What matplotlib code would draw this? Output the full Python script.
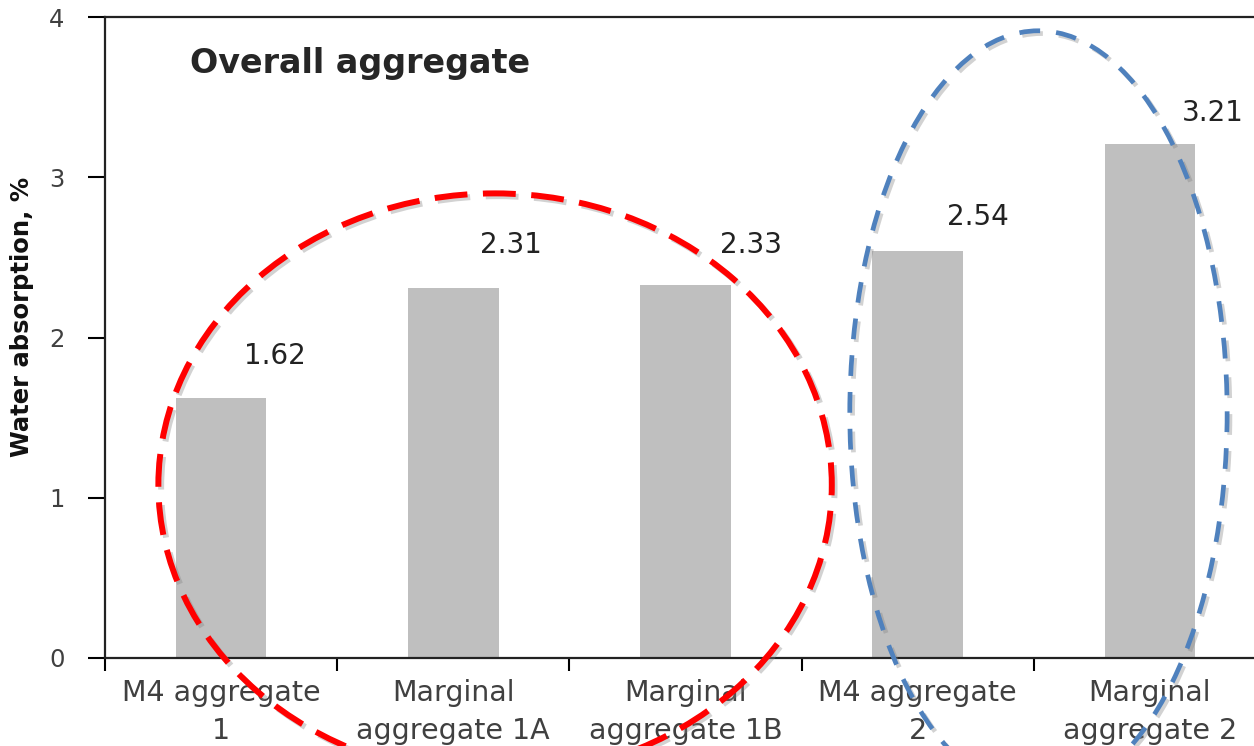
import matplotlib
matplotlib.use("Agg")
import matplotlib.pyplot as plt
from matplotlib.patches import Ellipse
from matplotlib import patheffects as pe

categories = ["M4 aggregate\n1", "Marginal\naggregate 1A", "Marginal\naggregate 1B",
              "M4 aggregate\n2", "Marginal\naggregate 2"]
water_absorption = [1.62, 2.31, 2.33, 2.54, 3.21]
y_ticks = [0, 1, 2, 3, 4]

plt.rcParams["font.family"] = ["DejaVu Sans"]

fig = plt.figure(figsize=(12.54, 7.46), dpi=100)
ax = fig.add_axes([0.0837, 0.118, 0.9259, 0.859])

x = list(range(len(categories)))
ax.bar(x, water_absorption, width=0.39, color="#BFBFBF", zorder=2)

# value labels sit up and to the right of each bar (offsets in pixels)
label_offsets = [(54, 42), (58, 43), (66, 40), (60, 34), (63, 31)]
for xi, v, (dx, dy) in zip(x, water_absorption, label_offsets):
    ax.annotate(f"{v:.2f}", xy=(xi, v), xytext=(dx * 0.72, dy * 0.72),
                textcoords="offset points", ha="center", va="center",
                fontsize=20, color="#222222")

ax.set_xlim(-0.5, 4.5)
ax.set_ylim(0, 4)
ax.set_yticks(y_ticks)
ax.set_yticklabels([str(t) for t in y_ticks], fontsize=17.5, color="#404040")
ax.set_xticks(x)
ax.set_xticklabels(categories, fontsize=20.5, color="#404040", linespacing=1.45)
ax.set_xticks([i - 0.5 for i in range(len(categories) + 1)], minor=True)
ax.tick_params(axis="x", which="major", length=0, pad=15)
ax.tick_params(axis="x", which="minor", length=9, width=1.5, direction="out")
ax.tick_params(axis="y", length=12, width=1.5, direction="out", pad=17)

for side in ["left", "bottom", "top"]:
    ax.spines[side].set_linewidth(1.6)
    ax.spines[side].set_color("#222222")
ax.spines["right"].set_visible(False)

ax.set_ylabel("Water absorption, %", fontsize=17.5, fontweight="bold", color="#111111")
ax.yaxis.set_label_coords(-0.061, 0.532)

ax.text(0.073, 0.928, "Overall aggregate", transform=ax.transAxes,
        fontsize=24, fontweight="bold", color="#262626", ha="left", va="center")

shadow = [pe.SimpleLineShadow(offset=(2, -2), shadow_color="#808080", alpha=0.35),
          pe.Normal()]

red = Ellipse((1.18, 1.08), width=2.90, height=3.64, fill=False,
              edgecolor="#FF0000", linewidth=4.3, linestyle=(0, (5.5, 2.6)),
              clip_on=False, zorder=4)
red.set_path_effects(shadow)
ax.add_patch(red)

blue = Ellipse((3.52, 1.53), width=1.625, height=4.77, fill=False,
               edgecolor="#4F81BD", linewidth=3.4, linestyle=(0, (4.4, 3.4)),
               clip_on=False, zorder=4)
blue.set_path_effects(shadow)
ax.add_patch(blue)

fig.savefig("out.png", dpi=100)
